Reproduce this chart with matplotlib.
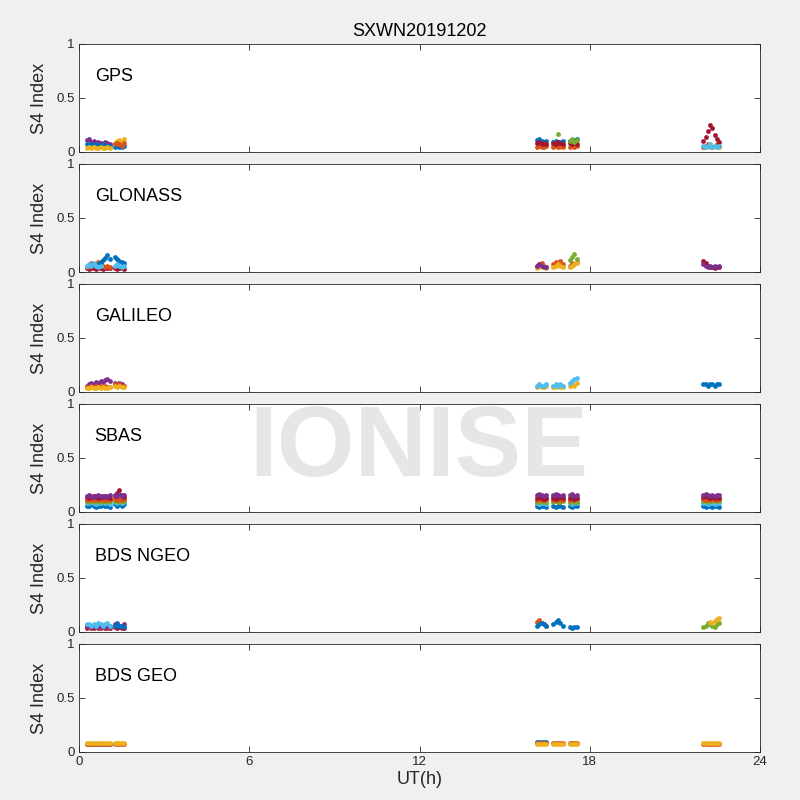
import numpy as np
import matplotlib
matplotlib.use('Agg')
import matplotlib.pyplot as plt

plt.rcParams['font.family'] = ['Liberation Sans', 'DejaVu Sans']

nan = float('nan')

# observation windows (UT hours): A(11) B(5) C(5) D(5) E(4) F(8)
t_obs = [0.28, 0.36, 0.44, 0.52, 0.60, 0.68, 0.76, 0.84, 0.92, 1.00, 1.08,
         1.26, 1.34, 1.42, 1.50, 1.58,
         16.14, 16.22, 16.30, 16.38, 16.46,
         16.72, 16.80, 16.88, 16.96, 17.04,
         17.30, 17.38, 17.46, 17.54,
         22.00, 22.08, 22.16, 22.24, 22.32, 22.40, 22.48, 22.56]

# --- GPS ---
gps_purple = [0.11, 0.12, 0.09, 0.10, 0.08, 0.09, 0.08, 0.07, 0.09, 0.08, 0.07,
              nan, nan, nan, nan, nan, nan, nan, nan, nan, nan, nan, nan, nan, nan, nan,
              nan, nan, nan, nan, nan, nan, nan, nan, nan, nan, nan, nan]
gps_blue = [0.07, 0.06, 0.07, 0.06, 0.07, 0.06, 0.06, 0.07, 0.06, 0.06, 0.06,
            0.05, 0.06, 0.05, 0.05, 0.06, 0.11, 0.12, 0.10, 0.09, 0.10,
            0.09, 0.10, 0.08, 0.09, 0.10, 0.10, 0.09, 0.11, 0.12,
            nan, nan, nan, nan, nan, nan, nan, nan]
gps_yellow = [0.04, 0.05, 0.04, 0.05, 0.04, 0.04, 0.05, 0.04, 0.04, 0.05, 0.04,
              0.08, 0.10, 0.11, 0.09, 0.12, nan, nan, nan, nan, nan,
              0.06, 0.07, 0.06, 0.05, 0.06, nan, nan, nan, nan,
              0.05, 0.05, 0.06, 0.05, 0.05, 0.06, 0.05, 0.05]
gps_orange = [nan, nan, nan, nan, nan, nan, nan, nan, nan, nan, nan,
              0.07, 0.08, 0.07, 0.06, 0.08, 0.05, 0.06, 0.05, 0.05, 0.06,
              0.05, 0.06, 0.05, 0.06, 0.05, 0.05, 0.06, 0.05, 0.06,
              0.05, 0.06, 0.07, 0.06, 0.05, 0.06, 0.07, 0.06]
gps_red = [nan, nan, nan, nan, nan, nan, nan, nan, nan, nan, nan,
           nan, nan, nan, nan, nan, 0.08, 0.09, 0.07, 0.08, 0.07,
           0.08, 0.07, 0.09, 0.08, 0.07, 0.08, 0.07, 0.08, 0.07,
           0.10, 0.14, 0.19, 0.25, 0.22, 0.16, 0.12, 0.09]
gps_cyan = [nan, nan, nan, nan, nan, nan, nan, nan, nan, nan, nan,
            nan, nan, nan, nan, nan, nan, nan, nan, nan, nan,
            nan, nan, nan, nan, nan, nan, nan, nan, nan,
            0.06, 0.05, 0.06, 0.07, 0.05, 0.06, 0.05, 0.06]
gps_green = [nan, nan, nan, nan, nan, nan, nan, nan, nan, nan, nan,
             nan, nan, nan, nan, nan, nan, nan, nan, nan, nan,
             nan, nan, 0.17, nan, nan, 0.10, 0.12, 0.09, 0.11,
             nan, nan, nan, nan, nan, nan, nan, nan]

# --- GLONASS ---
glo_red = [0.04, 0.03, 0.04, 0.04, 0.03, 0.04, 0.04, 0.03, 0.04, 0.04, 0.04,
           0.04, 0.03, 0.04, 0.04, 0.03, nan, nan, nan, nan, nan,
           nan, nan, nan, nan, nan, nan, nan, nan, nan,
           0.10, 0.08, 0.06, 0.05, 0.05, 0.04, 0.05, 0.05]
glo_orange = [0.05, 0.06, 0.08, 0.07, 0.06, 0.09, 0.07, 0.06, 0.05, 0.06, 0.05,
              nan, nan, nan, nan, nan, 0.06, 0.07, 0.08, 0.06, 0.05,
              0.07, 0.09, 0.08, 0.10, 0.07, 0.06, 0.08, 0.07, 0.09,
              nan, nan, nan, nan, nan, nan, nan, nan]
glo_blue = [nan, nan, nan, nan, nan, 0.07, 0.09, 0.11, 0.13, 0.16, 0.12,
            0.14, 0.12, 0.10, 0.09, 0.08, nan, nan, nan, nan, nan,
            nan, nan, nan, nan, nan, nan, nan, nan, nan,
            nan, nan, nan, nan, nan, nan, nan, nan]
glo_cyan = [0.06, 0.07, 0.06, 0.08, 0.06, 0.05, 0.06, nan, nan, nan, nan,
            0.06, 0.07, 0.06, 0.05, 0.06, nan, nan, nan, nan, nan,
            nan, nan, nan, nan, nan, nan, nan, nan, nan,
            nan, nan, nan, nan, nan, nan, nan, nan]
glo_yellow = [nan, nan, nan, nan, nan, nan, nan, nan, nan, nan, nan,
              nan, nan, nan, nan, nan, 0.04, 0.05, 0.06, 0.05, 0.04,
              0.05, 0.06, 0.07, 0.06, 0.05, 0.05, 0.06, 0.07, 0.08,
              nan, nan, nan, nan, nan, nan, nan, nan]
glo_purple = [nan, nan, nan, nan, nan, nan, nan, nan, nan, nan, nan,
              nan, nan, nan, nan, nan, 0.06, 0.07, 0.06, 0.05, 0.05,
              nan, nan, nan, nan, nan, nan, nan, nan, nan,
              0.07, 0.06, 0.05, 0.06, 0.05, 0.06, 0.05, 0.06]
glo_green = [nan, nan, nan, nan, nan, nan, nan, nan, nan, nan, nan,
             nan, nan, nan, nan, nan, nan, nan, nan, nan, nan,
             nan, nan, nan, nan, nan, 0.11, 0.14, 0.17, 0.12,
             nan, nan, nan, nan, nan, nan, nan, nan]

# --- GALILEO ---
gal_purple = [0.06, 0.07, 0.08, 0.07, 0.09, 0.08, 0.10, 0.09, 0.11, 0.12, 0.10,
              0.08, 0.07, 0.08, 0.07, 0.06, nan, nan, nan, nan, nan,
              nan, nan, nan, nan, nan, nan, nan, nan, nan,
              nan, nan, nan, nan, nan, nan, nan, nan]
gal_yellow = [0.04, 0.04, 0.05, 0.04, 0.04, 0.05, 0.04, 0.05, 0.04, 0.04, 0.05,
              0.06, 0.05, 0.06, 0.05, 0.05, 0.05, 0.06, 0.05, 0.05, 0.06,
              0.05, 0.05, 0.06, 0.05, 0.05, 0.06, 0.07, 0.06, 0.08,
              nan, nan, nan, nan, nan, nan, nan, nan]
gal_cyan = [nan, nan, nan, nan, nan, nan, nan, nan, nan, nan, nan,
            nan, nan, nan, nan, nan, 0.06, 0.07, 0.06, 0.06, 0.07,
            0.06, 0.07, 0.06, 0.07, 0.06, 0.08, 0.10, 0.12, 0.13,
            nan, nan, nan, nan, nan, nan, nan, nan]
gal_blue = [nan, nan, nan, nan, nan, nan, nan, nan, nan, nan, nan,
            nan, nan, nan, nan, nan, nan, nan, nan, nan, nan,
            nan, nan, nan, nan, nan, nan, nan, nan, nan,
            0.07, 0.07, 0.06, 0.07, 0.07, 0.06, 0.07, 0.07]
gal_orange = [0.05, 0.05, 0.06, 0.05, 0.06, 0.05, 0.06, 0.05, 0.06, 0.05, 0.05,
              0.07, 0.06, 0.07, 0.06, 0.06, nan, nan, nan, nan, nan,
              nan, nan, nan, nan, nan, nan, nan, nan, nan,
              nan, nan, nan, nan, nan, nan, nan, nan]

# --- SBAS ---
sbas_blue = [0.06, 0.06, 0.07, 0.06, 0.05, 0.06, 0.06, 0.07, 0.06, 0.06, 0.05,
             0.07, 0.06, 0.07, 0.06, 0.07, 0.06, 0.05, 0.06, 0.06, 0.05,
             0.06, 0.05, 0.06, 0.06, 0.05, 0.06, 0.05, 0.06, 0.06,
             0.06, 0.05, 0.06, 0.06, 0.05, 0.06, 0.06, 0.05]
sbas_cyan = [0.08, 0.08, 0.09, 0.08, 0.07, 0.08, 0.08, 0.09, 0.08, 0.08, 0.07,
             0.09, 0.08, 0.09, 0.08, 0.09, 0.08, 0.07, 0.08, 0.08, 0.07,
             0.14, 0.15, 0.14, 0.13, 0.14, 0.08, 0.07, 0.08, 0.08,
             0.08, 0.08, 0.07, 0.08, 0.08, 0.07, 0.08, 0.08]
sbas_green = [0.10, 0.09, 0.10, 0.10, 0.09, 0.10, 0.09, 0.10, 0.10, 0.09, 0.10,
              0.10, 0.10, 0.09, 0.10, 0.10, 0.09, 0.09, 0.10, 0.09, 0.09,
              0.09, 0.10, 0.09, 0.09, 0.10, 0.09, 0.10, 0.09, 0.09,
              0.10, 0.10, 0.09, 0.10, 0.10, 0.11, 0.10, 0.10]
sbas_orange = [0.11, 0.12, 0.11, 0.11, 0.12, 0.11, 0.12, 0.11, 0.11, 0.12, 0.11,
               0.12, 0.11, 0.12, 0.11, 0.12, 0.11, 0.12, 0.11, 0.11, 0.12,
               0.11, 0.11, 0.12, 0.11, 0.11, 0.11, 0.12, 0.11, 0.12,
               0.12, 0.11, 0.12, 0.11, 0.12, 0.11, 0.11, 0.12]
sbas_red = [0.14, 0.13, 0.14, 0.15, 0.14, 0.13, 0.14, 0.14, 0.15, 0.14, 0.13,
            0.15, 0.18, 0.20, 0.16, 0.14, 0.13, 0.14, 0.13, 0.12, 0.13,
            0.13, 0.12, 0.13, 0.14, 0.13, 0.13, 0.14, 0.12, 0.13,
            0.14, 0.15, 0.14, 0.13, 0.14, 0.13, 0.14, 0.13]
sbas_purple = [0.15, 0.16, 0.15, 0.14, 0.15, 0.16, 0.15, 0.15, 0.14, 0.15, 0.16,
               0.16, 0.15, 0.17, 0.15, 0.16, 0.16, 0.17, 0.16, 0.15, 0.16,
               0.16, 0.17, 0.16, 0.15, 0.16, 0.16, 0.17, 0.15, 0.16,
               0.16, 0.17, 0.16, 0.15, 0.16, 0.15, 0.16, 0.16]

# --- BDS NGEO ---
ngeo_red = [0.04, 0.05, 0.04, 0.04, 0.05, 0.04, 0.04, 0.05, 0.04, 0.04, 0.04,
            0.05, 0.04, 0.05, 0.04, 0.04, nan, nan, nan, nan, nan,
            nan, nan, nan, nan, nan, nan, nan, nan, nan,
            nan, nan, nan, nan, nan, nan, nan, nan]
ngeo_cyan = [0.07, 0.07, 0.06, 0.07, 0.06, 0.08, 0.07, 0.06, 0.07, 0.08, 0.06,
             nan, nan, nan, nan, nan, nan, nan, nan, nan, nan,
             nan, nan, nan, nan, nan, nan, nan, nan, nan,
             nan, nan, nan, nan, nan, nan, nan, nan]
ngeo_orange = [0.06, 0.05, 0.06, 0.06, 0.05, 0.06, 0.05, 0.06, 0.05, 0.05, 0.06,
               nan, nan, nan, nan, nan, 0.09, 0.11, 0.08, 0.07, 0.06,
               nan, nan, nan, nan, nan, nan, nan, nan, nan,
               nan, nan, nan, nan, nan, nan, nan, nan]
ngeo_purple = [0.06, 0.06, 0.05, 0.06, 0.06, 0.05, 0.06, 0.06, 0.05, 0.06, 0.05,
               0.07, 0.08, 0.06, 0.06, 0.07, nan, nan, nan, nan, nan,
               nan, nan, nan, nan, nan, nan, nan, nan, nan,
               nan, nan, nan, nan, nan, nan, nan, nan]
ngeo_blue = [nan, nan, nan, nan, nan, nan, nan, nan, nan, nan, nan,
             0.06, 0.07, 0.06, 0.06, 0.05, 0.06, 0.07, 0.08, 0.07, 0.06,
             0.07, 0.09, 0.11, 0.08, 0.06, 0.05, 0.04, 0.05, 0.05,
             nan, nan, nan, nan, nan, nan, nan, nan]
ngeo_green = [nan, nan, nan, nan, nan, nan, nan, nan, nan, nan, nan,
              nan, nan, nan, nan, nan, nan, nan, nan, nan, nan,
              nan, nan, nan, nan, nan, nan, nan, nan, nan,
              0.05, 0.06, 0.08, 0.07, 0.06, 0.05, 0.07, 0.08]
ngeo_yellow = [nan, nan, nan, nan, nan, nan, nan, nan, nan, nan, nan,
               nan, nan, nan, nan, nan, nan, nan, nan, nan, nan,
               nan, nan, nan, nan, nan, nan, nan, nan, nan,
               nan, nan, nan, 0.09, 0.08, 0.10, 0.12, 0.13]

# --- BDS GEO ---
geo_orange = [0.07, 0.07, 0.07, 0.07, 0.07, 0.07, 0.07, 0.07, 0.07, 0.07, 0.07,
              0.07, 0.07, 0.07, 0.07, 0.07, 0.08, 0.08, 0.08, 0.08, 0.08,
              0.08, 0.08, 0.08, 0.08, 0.08, 0.08, 0.08, 0.08, 0.08,
              0.07, 0.07, 0.07, 0.07, 0.07, 0.07, 0.07, 0.07]
geo_yellow = [0.08, 0.08, 0.08, 0.08, 0.08, 0.08, 0.08, 0.08, 0.08, 0.08, 0.08,
              0.08, 0.08, 0.08, 0.08, 0.08, 0.07, 0.07, 0.07, 0.07, 0.07,
              0.07, 0.07, 0.07, 0.07, 0.07, 0.07, 0.07, 0.07, 0.07,
              0.08, 0.08, 0.08, 0.08, 0.08, 0.08, 0.08, 0.08]
geo_blue = [0.07, 0.07, 0.07, 0.07, 0.07, 0.07, 0.07, 0.07, 0.07, 0.07, 0.07,
            nan, nan, nan, nan, nan, 0.09, 0.09, 0.09, 0.09, 0.09,
            nan, nan, nan, nan, nan, nan, nan, nan, nan,
            nan, nan, nan, nan, nan, nan, nan, nan]

systems = ['GPS', 'GLONASS', 'GALILEO', 'SBAS', 'BDS NGEO', 'BDS GEO']
station = 'SXWN20191202'

# MATLAB default colour order
C_BLUE = '#0072BD'
C_ORANGE = '#D95319'
C_YELLOW = '#EDB120'
C_PURPLE = '#7E2F8E'
C_GREEN = '#77AC30'
C_CYAN = '#4DBEEE'
C_RED = '#A2142F'

panel_series = [
    [(gps_purple, C_PURPLE), (gps_blue, C_BLUE), (gps_yellow, C_YELLOW),
     (gps_orange, C_ORANGE), (gps_red, C_RED), (gps_cyan, C_CYAN), (gps_green, C_GREEN)],
    [(glo_red, C_RED), (glo_orange, C_ORANGE), (glo_blue, C_BLUE), (glo_cyan, C_CYAN),
     (glo_yellow, C_YELLOW), (glo_purple, C_PURPLE), (glo_green, C_GREEN)],
    [(gal_purple, C_PURPLE), (gal_orange, C_ORANGE), (gal_yellow, C_YELLOW),
     (gal_cyan, C_CYAN), (gal_blue, C_BLUE)],
    [(sbas_blue, C_BLUE), (sbas_cyan, C_CYAN), (sbas_green, C_GREEN),
     (sbas_orange, C_ORANGE), (sbas_red, C_RED), (sbas_purple, C_PURPLE)],
    [(ngeo_red, C_RED), (ngeo_orange, C_ORANGE), (ngeo_purple, C_PURPLE), (ngeo_cyan, C_CYAN),
     (ngeo_blue, C_BLUE), (ngeo_green, C_GREEN), (ngeo_yellow, C_YELLOW)],
    [(geo_blue, C_BLUE), (geo_orange, C_ORANGE), (geo_yellow, C_YELLOW)],
]

fig = plt.figure(figsize=(8, 8), dpi=100, facecolor='#f0f0f0')

# panel geometry in pixels (800x800 figure)
left_px, width_px = 79, 681
top0_px, height_px, step_px = 44, 108, 120

axes = []
for i, name in enumerate(systems):
    top = top0_px + step_px * i
    ax = fig.add_axes([left_px / 800, 1 - (top + height_px) / 800,
                       width_px / 800, height_px / 800])
    for vals, col in panel_series[i]:
        ax.plot(t_obs, vals, linestyle='none', marker='o', markersize=3.0,
                markerfacecolor=col, markeredgecolor=col, markeredgewidth=0.4)
    ax.set_xlim(0, 24)
    ax.set_ylim(0, 1)
    ax.set_xticks([0, 6, 12, 18, 24])
    ax.set_yticks([0, 0.5, 1])
    ax.set_yticklabels(['0', '0.5', '1'])
    ax.tick_params(direction='in', length=4, width=0.6, colors='#262626',
                   labelsize=9.5, top=True, right=True, pad=3)
    for sp in ax.spines.values():
        sp.set_color('#262626')
        sp.set_linewidth(0.6)
    ax.set_ylabel('S4 Index', fontsize=13, color='#262626', labelpad=6)
    ax.text(0.023, 0.70, name, transform=ax.transAxes, fontsize=13,
            ha='left', va='center', color='black')
    if i < len(systems) - 1:
        ax.set_xticklabels([])
    else:
        ax.set_xlabel('UT(h)', fontsize=13, color='#262626', labelpad=2)
    axes.append(ax)

axes[0].set_title(station, fontsize=13, color='black', pad=6)

# watermark
fig.text(0.523, 0.4375, 'IONISE', fontsize=72, fontweight='bold',
         color='#e6e6e6', ha='center', va='center', zorder=0.5)

fig.savefig('out.png', dpi=100, facecolor=fig.get_facecolor())
